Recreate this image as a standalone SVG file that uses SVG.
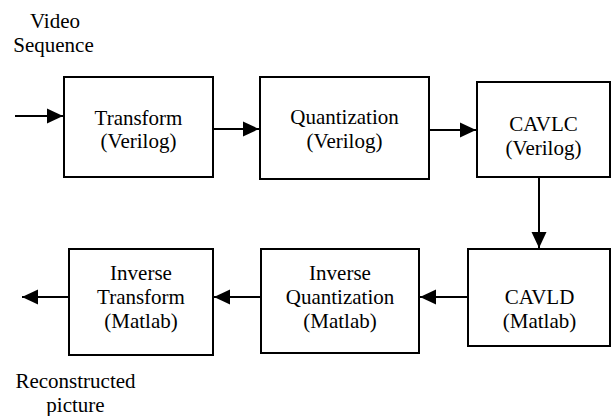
<svg xmlns="http://www.w3.org/2000/svg" width="612" height="416" viewBox="0 0 612 416">
<style>
.box{fill:#fff;stroke:#000;stroke-width:2}
.t{font-family:"Liberation Serif","Times New Roman",serif;font-size:21px;fill:#000;text-anchor:middle}
.c{stroke:#000;stroke-width:2;fill:none;marker-end:url(#ah)}
</style>
<defs>
<marker id="ah" markerUnits="userSpaceOnUse" viewBox="0 0 16 16" markerWidth="16" markerHeight="16" refX="16" refY="8" orient="auto">
<path d="M0,0.5 L16,8 L0,15.5 z" fill="#000"/>
</marker>
</defs>
<rect width="612" height="416" fill="#fff"/>
<g id="connectors">
<line class="c" x1="15" y1="116" x2="63" y2="116"/>
<line class="c" x1="213" y1="129" x2="259" y2="129"/>
<line class="c" x1="429" y1="130" x2="476" y2="130"/>
<line class="c" x1="539" y1="177" x2="539" y2="248"/>
<line class="c" x1="468" y1="297" x2="420" y2="297"/>
<line class="c" x1="261" y1="297" x2="214" y2="297"/>
<line class="c" x1="69" y1="297" x2="22" y2="297"/>
</g>
<g id="label-input">
<text class="t" x="55" y="28">Video</text>
<text class="t" x="53.5" y="52">Sequence</text>
</g>
<g id="transform">
<rect class="box" x="64" y="77" width="149" height="100"/>
<text class="t" x="138.5" y="125">Transform</text>
<text class="t" x="138.5" y="148">(Verilog)</text>
</g>
<g id="quantization">
<rect class="box" x="260" y="77" width="169" height="102"/>
<text class="t" x="344.5" y="124">Quantization</text>
<text class="t" x="344.5" y="148">(Verilog)</text>
</g>
<g id="cavlc">
<rect class="box" x="477" y="82" width="133" height="95"/>
<text class="t" x="543.5" y="131">CAVLC</text>
<text class="t" x="543.5" y="155">(Verilog)</text>
</g>
<g id="cavld">
<rect class="box" x="468" y="249" width="142" height="97"/>
<text class="t" x="539.5" y="304">CAVLD</text>
<text class="t" x="539.5" y="328">(Matlab)</text>
</g>
<g id="inverse-quantization">
<rect class="box" x="261" y="249" width="158" height="104"/>
<text class="t" x="340" y="280">Inverse</text>
<text class="t" x="340" y="304">Quantization</text>
<text class="t" x="340" y="328">(Matlab)</text>
</g>
<g id="inverse-transform">
<rect class="box" x="69" y="249" width="144" height="106"/>
<text class="t" x="141" y="280">Inverse</text>
<text class="t" x="141" y="304">Transform</text>
<text class="t" x="141" y="328">(Matlab)</text>
</g>
<g id="label-output">
<text class="t" x="75.5" y="388">Reconstructed</text>
<text class="t" x="75.5" y="412">picture</text>
</g>
</svg>
